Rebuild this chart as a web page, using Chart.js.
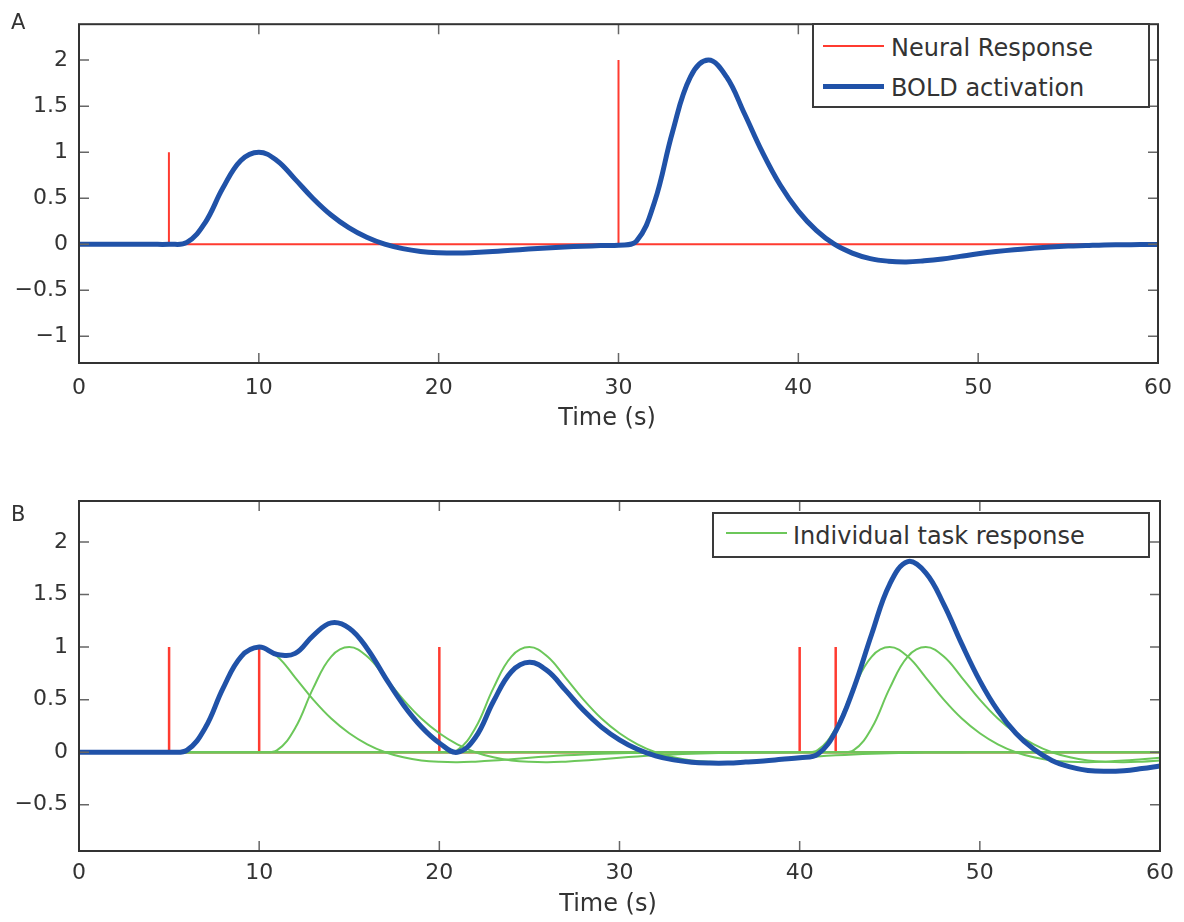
<!DOCTYPE html>
<html>
<head>
<meta charset="utf-8">
<script src="https://cdn.jsdelivr.net/npm/chart.js@4.4.1/dist/chart.umd.min.js"></script>
<style>
  body { margin: 0; background: #fff; width: 1184px; height: 922px; position: relative; overflow: hidden; font-family: "DejaVu Sans", sans-serif; color: #333; }
  canvas { position: absolute; left: 0; }
  #chartA { top: 0; }
  #chartB { top: 460px; }
  .panel { position: absolute; font-size: 21px; line-height: 24px; left: 11px; }
  .legend { position: absolute; box-sizing: border-box; border: 2px solid #3a3a3a; background: #fff; }
  .lg-text { position: absolute; font-size: 24px; line-height: 28px; white-space: nowrap; color: #333; }
  .lg-line { position: absolute; width: 61px; }
</style>
</head>
<body>
<canvas id="chartA" width="1184" height="440"></canvas>
<canvas id="chartB" width="1184" height="462"></canvas>

<div class="panel" style="top:10px;">A</div>
<div class="panel" style="top:502px;">B</div>

<div class="legend" style="left:812px; top:23px; width:338px; height:85px;"></div>
<div class="lg-line" style="left:823px; top:45px; height:2px; background:#ff3b30;"></div>
<div class="lg-text" style="left:891px; top:34px;">Neural Response</div>
<div class="lg-line" style="left:823px; top:84px; height:5px; background:#2052a8;"></div>
<div class="lg-text" style="left:891px; top:74px;">BOLD activation</div>

<div class="legend" style="left:712px; top:512px; width:438px; height:46px;"></div>
<div class="lg-line" style="left:726px; top:532px; height:2px; background:#6cc75a;"></div>
<div class="lg-text" style="left:793px; top:522px;">Individual task response</div>

<script>
const time = [0,1,2,3,4,5,6,7,8,9,10,11,12,13,14,15,16,17,18,19,20,21,22,23,24,25,26,27,28,29,30,
  31,32,33,34,35,36,37,38,39,40,41,42,43,44,45,46,47,48,49,50,51,52,53,54,55,56,57,58,59,60];

// panel A
const neuralOnsetsA = [5, 30];
const neuralAmpsA = [1, 2];
const boldA = [0,0,0,0,0,0,0.02,0.23,0.61,0.91,1.0,0.91,0.71,0.50,0.32,0.18,0.075,0.0,
  -0.048,-0.078,-0.092,-0.096,-0.09,-0.08,-0.066,-0.052,-0.04,-0.03,-0.022,-0.015,-0.01,
  0.033,0.456,1.217,1.818,2.0,1.82,1.42,1.0,0.64,0.36,0.15,0.0,-0.096,-0.156,-0.184,
  -0.192,-0.18,-0.16,-0.132,-0.104,-0.08,-0.06,-0.044,-0.03,-0.02,-0.014,-0.008,-0.006,-0.004,-0.002];

// panel B
const neuralOnsetsB = [5, 10, 20, 40, 42];
const neuralAmpsB = [1, 1, 1, 1, 1];
const task1 = [0,0,0,0,0,0,
  0.02,0.23,0.61,0.91,1.0,0.91,0.71,0.50,0.32,0.18,0.075,0.0,-0.048,-0.078,-0.092,
  -0.096,-0.09,-0.08,-0.066,-0.052,-0.04,-0.03,-0.022,-0.015,-0.01,-0.007,-0.004,-0.003,-0.002,-0.001,
  0,0,0,0,0,0,0,0,0,0,0,0,0,0,0,0,0,0,0,0,0,0,0,0,0];
const task2 = [0,0,0,0,0,0,0,0,0,0,0,
  0.02,0.23,0.61,0.91,1.0,0.91,0.71,0.50,0.32,0.18,0.075,0.0,-0.048,-0.078,-0.092,
  -0.096,-0.09,-0.08,-0.066,-0.052,-0.04,-0.03,-0.022,-0.015,-0.01,-0.007,-0.004,-0.003,-0.002,-0.001,
  0,0,0,0,0,0,0,0,0,0,0,0,0,0,0,0,0,0,0,0];
const task3 = [0,0,0,0,0,0,0,0,0,0,0,0,0,0,0,0,0,0,0,0,0,
  0.02,0.23,0.61,0.91,1.0,0.91,0.71,0.50,0.32,0.18,0.075,0.0,-0.048,-0.078,-0.092,
  -0.096,-0.09,-0.08,-0.066,-0.052,-0.04,-0.03,-0.022,-0.015,-0.01,-0.007,-0.004,-0.003,-0.002,-0.001,
  0,0,0,0,0,0,0,0,0,0];
const task4 = [0,0,0,0,0,0,0,0,0,0,0,0,0,0,0,0,0,0,0,0,0,0,0,0,0,0,0,0,0,0,0,0,0,0,0,0,0,0,0,0,0,
  0.02,0.23,0.61,0.91,1.0,0.91,0.71,0.50,0.32,0.18,0.075,0.0,-0.048,-0.078,-0.092,
  -0.096,-0.09,-0.08,-0.066,-0.052];
const task5 = [0,0,0,0,0,0,0,0,0,0,0,0,0,0,0,0,0,0,0,0,0,0,0,0,0,0,0,0,0,0,0,0,0,0,0,0,0,0,0,0,0,0,0,
  0.02,0.23,0.61,0.91,1.0,0.91,0.71,0.50,0.32,0.18,0.075,0.0,-0.048,-0.078,-0.092,
  -0.096,-0.09,-0.08];
const boldB = [0,0,0,0,0,0,0.02,0.23,0.61,0.91,1.0,0.93,0.94,1.11,1.23,1.18,0.985,0.71,
  0.452,0.242,0.088,-0.001,0.14,0.482,0.766,0.856,0.774,0.59,0.398,0.239,0.118,0.028,-0.034,
  -0.073,-0.095,-0.103,-0.103,-0.094,-0.083,-0.068,-0.053,-0.02,0.2,0.608,1.125,1.6,1.813,
  1.706,1.407,1.028,0.679,0.395,0.18,0.027,-0.078,-0.14,-0.174,-0.182,-0.176,-0.156,-0.132];

const RED = '#ff3b30';
const BLUE = '#2052a8';
const GREEN = '#6cc75a';
const FONT = 'DejaVu Sans';

function xy(values) {
    return values.map((v, i) => ({ x: time[i], y: v }));
}

// stems on a zero baseline
function stems(onsets, amps) {
    const pts = [{ x: time[0], y: 0 }];
    onsets.forEach((t, i) => {
        pts.push({ x: t, y: 0 }, { x: t, y: amps[i] }, { x: t, y: 0 });
    });
    pts.push({ x: time[time.length - 1], y: 0 });
    return pts;
}

function curve(values, color, width) {
    return {
        data: xy(values),
        borderColor: color,
        borderWidth: width,
        pointRadius: 0,
        tension: 0.4,
        borderJoinStyle: 'round',
        fill: false
    };
}

const boxPlugin = {
    id: 'box',
    afterDatasetsDraw(chart) {
        const { ctx, chartArea: a, scales: { x, y } } = chart;
        ctx.save();
        ctx.strokeStyle = '#666';
        ctx.lineWidth = 1.5;
        ctx.beginPath();
        x.ticks.forEach(t => {
            const px = x.getPixelForValue(t.value);
            ctx.moveTo(px, a.bottom); ctx.lineTo(px, a.bottom - 10);
            ctx.moveTo(px, a.top); ctx.lineTo(px, a.top + 10);
        });
        y.ticks.forEach(t => {
            const py = y.getPixelForValue(t.value);
            ctx.moveTo(a.left, py); ctx.lineTo(a.left + 10, py);
            ctx.moveTo(a.right, py); ctx.lineTo(a.right - 10, py);
        });
        ctx.stroke();
        ctx.strokeStyle = '#333';
        ctx.lineWidth = 2;
        ctx.strokeRect(a.left, a.top, a.right - a.left, a.bottom - a.top);
        ctx.restore();
    }
};

function makeChart(id, datasets, yMin, yMax, padTop, axisHeight, tickPad, titlePad) {
    return new Chart(document.getElementById(id), {
        type: 'line',
        data: { datasets },
        options: {
            responsive: false,
            animation: false,
            devicePixelRatio: 1,
            layout: { padding: { left: 0, right: 24, top: padTop, bottom: 0 } },
            plugins: { legend: { display: false }, tooltip: { enabled: false } },
            scales: {
                x: {
                    type: 'linear',
                    min: 0,
                    max: 60,
                    grid: { display: false, drawTicks: false },
                    border: { display: false },
                    ticks: { stepSize: 10, padding: tickPad, color: '#333', font: { family: FONT, size: 22 } },
                    // trailing spaces nudge the title a little left, as in the original
                    title: { display: true, text: 'Time (s)   ', color: '#333', font: { family: FONT, size: 24 }, padding: { top: 0, bottom: titlePad } },
                    afterFit: s => { s.height = axisHeight; }
                },
                y: {
                    min: yMin,
                    max: yMax,
                    grid: { display: false, drawTicks: false },
                    border: { display: false },
                    ticks: {
                        stepSize: 0.5,
                        includeBounds: false,
                        padding: 11,
                        color: '#333',
                        font: { family: FONT, size: 22 },
                        callback: v => String(v).replace('-', '\u2212')
                    },
                    afterFit: s => { s.width = 79; }
                }
            }
        },
        plugins: [boxPlugin]
    });
}

makeChart('chartA', [
    curve(boldA, BLUE, 5),
    { data: stems(neuralOnsetsA, neuralAmpsA), borderColor: RED, borderWidth: 2, pointRadius: 0, tension: 0 }
], -1.29, 2.39, 14, 77, 12, 7);

makeChart('chartB', [
    curve(boldB, BLUE, 5),
    curve(task1, GREEN, 2),
    curve(task2, GREEN, 2),
    curve(task3, GREEN, 2),
    curve(task4, GREEN, 2),
    curve(task5, GREEN, 2),
    { data: stems(neuralOnsetsB, neuralAmpsB), borderColor: RED, borderWidth: 2.5, pointRadius: 0, tension: 0 }
], -0.94, 2.39, 41, 71, 9, 3);
</script>
</body>
</html>
